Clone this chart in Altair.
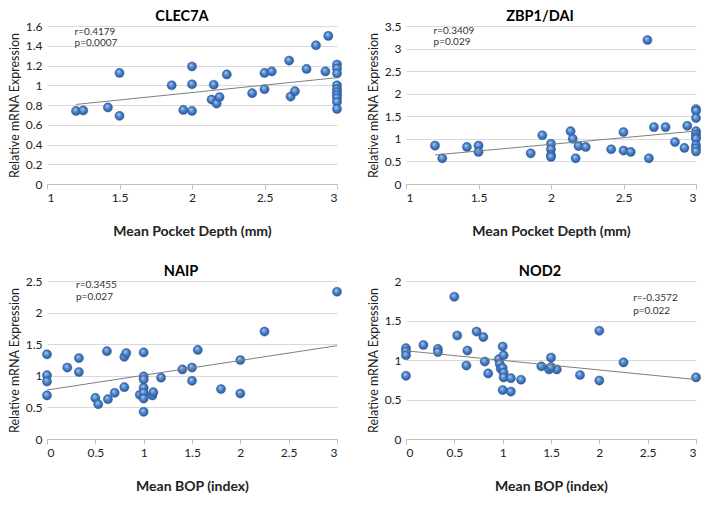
import altair as alt
import pandas as pd

FONT = "Lato"

# ---- data ----
clec_x = [1.20, 1.25, 1.42, 1.50, 1.50, 1.86, 1.94, 2.00, 2.00, 2.00, 2.15, 2.135, 2.17, 2.19, 2.24,
          2.415, 2.50, 2.50, 2.55, 2.67, 2.68, 2.71, 2.79, 2.855, 2.92, 2.94,
          3, 3, 3, 3, 3, 3, 3, 3, 3, 3]
clec_y = [0.74, 0.745, 0.775, 1.125, 0.69, 1.00, 0.75, 1.19, 1.01, 0.74, 1.005, 0.855, 0.815, 0.88, 1.11,
          0.92, 1.125, 0.96, 1.14, 1.25, 0.885, 0.94, 1.165, 1.405, 1.14, 1.50,
          1.21, 1.17, 1.12, 1.00, 0.96, 0.93, 0.90, 0.87, 0.83, 0.76]

zbp_x = [1.20, 1.25, 1.42, 1.50, 1.50, 1.86, 1.94, 2.00, 2.00, 2.00, 2.00, 2.135, 2.15, 2.17, 2.19, 2.24,
         2.415, 2.50, 2.50, 2.55, 2.665, 2.675, 2.71, 2.79, 2.855, 2.92, 2.94,
         3, 3, 3, 3, 3, 3, 3, 3, 3, 3]
zbp_y = [0.85, 0.57, 0.82, 0.85, 0.71, 0.68, 1.08, 0.89, 0.77, 0.64, 0.60, 1.17, 1.00, 0.57, 0.84, 0.82,
         0.77, 1.15, 0.74, 0.71, 3.19, 0.57, 1.26, 1.26, 0.93, 0.80, 1.29,
         1.66, 1.62, 1.46, 1.17, 1.10, 1.04, 1.00, 0.86, 0.79, 0.72]

naip_x = [0, 0, 0, 0, 0.21, 0.33, 0.33, 0.50, 0.53, 0.63, 0.62, 0.70, 0.80, 0.82, 0.80, 0.96,
          1, 1, 1, 1, 1, 1, 1, 1.09, 1.10, 1.18, 1.40, 1.50, 1.50, 1.56, 1.80, 2.0, 2.0, 2.25, 3.0]
naip_y = [1.34, 1.01, 0.91, 0.69, 1.13, 1.28, 1.06, 0.65, 0.55, 0.63, 1.39, 0.73, 1.30, 1.36, 0.82, 0.70,
          1.37, 0.99, 0.94, 0.81, 0.73, 0.64, 0.43, 0.69, 0.74, 0.97, 1.10, 1.13, 0.92, 1.41, 0.79, 1.25, 0.72, 1.70, 2.33]

nod_x = [0, 0, 0, 0, 0.18, 0.33, 0.33, 0.50, 0.53, 0.635, 0.625, 0.73, 0.80, 0.815, 0.85, 0.96, 0.97, 0.98,
         1.0, 1.0, 1.01, 1.01, 1.01, 1.0, 1.085, 1.085, 1.19, 1.40, 1.50, 1.48, 1.56, 1.50, 1.80, 2.0, 2.0, 2.25, 3.0]
nod_y = [1.15, 1.11, 1.06, 0.80, 1.19, 1.14, 1.10, 1.80, 1.31, 1.12, 0.93, 1.36, 1.29, 0.98, 0.83, 1.01, 0.95, 0.89,
         1.17, 0.90, 1.06, 0.84, 0.78, 0.62, 0.77, 0.60, 0.75, 0.92, 1.03, 0.88, 0.88, 0.91, 0.81, 1.37, 0.74, 0.97, 0.78]

titles = ["CLEC7A", "ZBP1/DAI", "NAIP", "NOD2"]
r_texts = ["r=0.4179", "r=0.3409", "r=0.3455", "r=-0.3572"]
p_texts = ["p=0.0007", "p=0.029", "p=0.027", "p=0.022"]
x_titles = ["Mean Pocket Depth (mm)", "Mean Pocket Depth (mm)", "Mean BOP (index)", "Mean BOP (index)"]
y_title = "Relative mRNA Expression"

x_ticks_pd = [1, 1.5, 2, 2.5, 3]
x_ticks_bop = [0, 0.5, 1, 1.5, 2, 2.5, 3]
y_ticks_clec = [0, 0.2, 0.4, 0.6, 0.8, 1, 1.2, 1.4, 1.6]
y_ticks_zbp = [0, 0.5, 1, 1.5, 2, 2.5, 3, 3.5]
y_ticks_naip = [0, 0.5, 1, 1.5, 2, 2.5]
y_ticks_nod = [0, 0.5, 1, 1.5, 2]

GRAD = alt.RadialGradient(
    gradient="radial",
    stops=[alt.GradientStop(offset=0, color="#b3d0f4"),
           alt.GradientStop(offset=0.45, color="#5288d0"),
           alt.GradientStop(offset=1, color="#22508e")],
    x1=0.38, y1=0.32, r1=0.0, x2=0.5, y2=0.5, r2=0.55)

PW, PH = 290, 158


def panel(xs, ys, title, xtitle, xticks, yticks, ann_x, ann_yr, ann_yp, rtxt, ptxt, dx):
    df = pd.DataFrame({"x": xs, "y": ys})
    xenc = alt.X("x:Q", scale=alt.Scale(domain=[xticks[0], xticks[-1]], nice=False, zero=False),
                 axis=alt.Axis(title=xtitle, values=xticks, format="~g", labelOverlap=False))
    yenc = alt.Y("y:Q", scale=alt.Scale(domain=[yticks[0], yticks[-1]], nice=False),
                 axis=alt.Axis(title=y_title, values=yticks, format="~g", labelOverlap=False))
    base = alt.Chart(df)
    pts = base.mark_circle(size=85, fill=GRAD, opacity=1, stroke="#2a5a98", strokeWidth=0.4).encode(
        x=xenc, y=yenc)
    line = base.transform_regression("x", "y").mark_line(color="#7f7f7f", strokeWidth=1).encode(
        x=xenc, y=yenc)
    ann_df = pd.DataFrame({"x": [ann_x, ann_x], "y": [ann_yr, ann_yp], "t": [rtxt, ptxt]})
    ann = alt.Chart(ann_df).mark_text(align="left", baseline="middle", fontSize=10, font=FONT,
                                      color="#333333").encode(x=xenc, y=yenc, text="t:N")
    return alt.layer(pts, line, ann).properties(
        width=PW, height=PH,
        title=alt.TitleParams(title, dx=dx, fontSize=14.5, font=FONT, fontWeight="bold", offset=-4))


p1 = panel(clec_x, clec_y, titles[0], x_titles[0], x_ticks_pd, y_ticks_clec, 1.19, 1.54, 1.43, r_texts[0], p_texts[0], -10)
p2 = panel(zbp_x, zbp_y, titles[1], x_titles[1], x_ticks_pd, y_ticks_zbp, 1.19, 3.38, 3.14, r_texts[1], p_texts[1], -11)
p3 = panel(naip_x, naip_y, titles[2], x_titles[2], x_ticks_bop, y_ticks_naip, 0.30, 2.44, 2.25, r_texts[2], p_texts[2], -11)
p4 = panel(nod_x, nod_y, titles[3], x_titles[3], x_ticks_bop, y_ticks_nod, 2.35, 1.78, 1.62, r_texts[3], p_texts[3], -11)

chart = alt.vconcat(
    alt.hconcat(p1, p2, spacing=24),
    alt.hconcat(p3, p4, spacing=24),
    spacing=25,
).properties(
    padding={"left": 0, "top": 0, "right": 0, "bottom": 0}
).configure_view(stroke=None).configure_axis(
    labelFont=FONT, titleFont=FONT, labelColor="#222222", titleColor="#222222", labelFontSize=12,
).configure_axisY(
    domain=False, ticks=False, gridColor="#d9d9d9", labelPadding=5, titlePadding=4,
    titleFontSize=12.5, titleFontWeight="normal",
).configure_axisX(
    grid=False, domainColor="#bfbfbf", tickColor="#bfbfbf", tickSize=5, labelPadding=3,
    titleFontSize=14, titleFontWeight="bold", titlePadding=21,
)

chart.save("out.html", embed_options={"renderer": "svg", "actions": False})
